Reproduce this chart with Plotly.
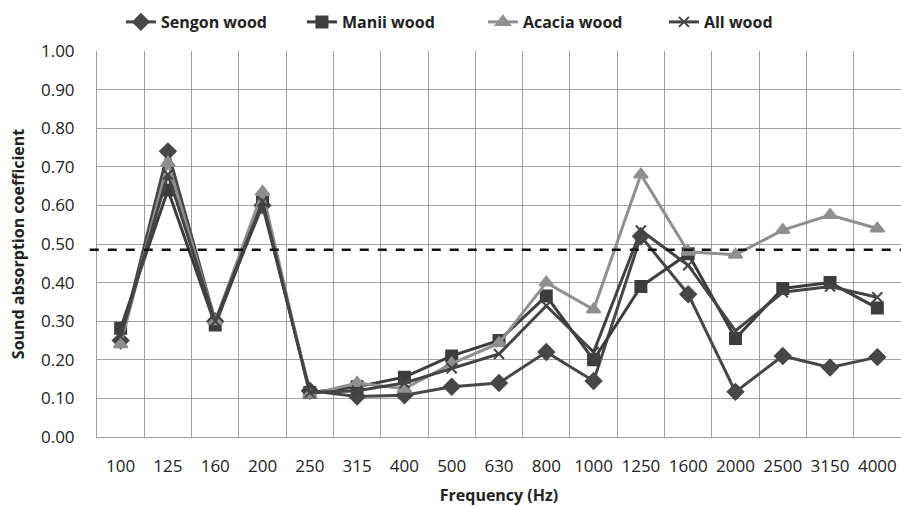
import plotly.graph_objects as go

frequencies = ["100", "125", "160", "200", "250", "315", "400", "500", "630",
               "800", "1000", "1250", "1600", "2000", "2500", "3150", "4000"]
sengon = [0.25, 0.74, 0.30, 0.60, 0.12, 0.105, 0.108, 0.13, 0.14, 0.22, 0.145,
          0.52, 0.37, 0.117, 0.21, 0.18, 0.207]
manii = [0.282, 0.64, 0.29, 0.61, 0.115, 0.13, 0.155, 0.21, 0.25, 0.365, 0.20,
         0.39, 0.475, 0.255, 0.385, 0.40, 0.334]
acacia = [0.24, 0.71, 0.30, 0.635, 0.11, 0.14, 0.125, 0.19, 0.243, 0.40, 0.33,
          0.68, 0.48, 0.472, 0.536, 0.575, 0.54]
all_wood = [0.26, 0.68, 0.30, 0.61, 0.115, 0.12, 0.14, 0.178, 0.215, 0.34, 0.22,
            0.535, 0.445, 0.275, 0.375, 0.39, 0.362]
threshold = 0.485

series = [
    ("Sengon wood", sengon, "#474747", "diamond", 12),
    ("Manii wood", manii, "#3d3d3d", "square", 11),
    ("Acacia wood", acacia, "#8f8f8f", "triangle-up", 12),
    ("All wood", all_wood, "#444444", "x-thin", 10),
]

fig = go.Figure()
for name, vals, col, sym, sz in series:
    fig.add_trace(go.Scatter(
        x=frequencies, y=vals, name=name, mode="lines+markers",
        line=dict(color=col, width=3),
        marker=dict(symbol=sym, size=sz, color=col,
                    line=dict(color=col, width=2)),
    ))

fig.add_shape(type="line", xref="paper", yref="y", x0=-0.009, x1=1,
              y0=threshold, y1=threshold,
              line=dict(color="#111111", width=2.5, dash="dash"))

fig.update_layout(
    width=901, height=506,
    margin=dict(l=97, r=0, t=51, b=69, autoexpand=False),
    paper_bgcolor="white", plot_bgcolor="white",
    font=dict(family="Open Sans", size=13, color="#222"),
    legend=dict(orientation="h", x=0.536, xanchor="center", xref="container",
                y=1 - 22 / 506, yanchor="middle", yref="container",
                font=dict(family="Open Sans", size=16, color="#222", weight="bold"),
                traceorder="normal", itemwidth=30, entrywidth=136),
    showlegend=True,
)

fig.update_xaxes(
    type="category", tickson="boundaries", showgrid=True, automargin=False,
    gridcolor="#a0a0a0", gridwidth=1, showline=True, linecolor="#a0a0a0",
    ticks="", ticklabelstandoff=14,
    tickfont=dict(family="Open Sans", size=17, color="#222"),
    title=dict(text="<b>Frequency (Hz)</b>", standoff=18,
               font=dict(family="Open Sans", size=16, color="#222")),
    range=[-0.5, 16.5],
)
fig.update_yaxes(
    range=[0, 1.0], dtick=0.1, tickformat=".2f", showgrid=True, automargin=False,
    gridcolor="#a0a0a0", gridwidth=1, showline=True, linecolor="#a0a0a0",
    zeroline=False, ticks="", ticklabelstandoff=18,
    tickfont=dict(family="Open Sans", size=17, color="#222"),
    title=dict(text="<b>Sound absorption coefficient</b>", standoff=12,
               font=dict(family="Open Sans", size=16, color="#222")),
)

fig.write_html("out.html", config={"displayModeBar": False},
               post_script="document.body.style.margin='0px';")
